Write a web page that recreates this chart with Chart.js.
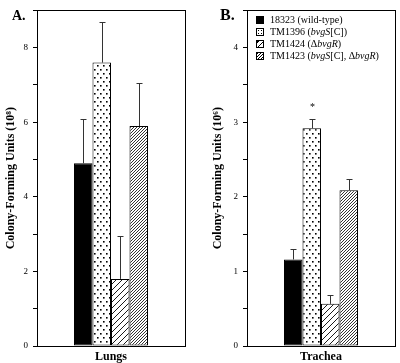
<!DOCTYPE html>
<html>
<head>
<meta charset="utf-8">
<script src="https://cdn.jsdelivr.net/npm/chart.js@4.4.1/dist/chart.umd.min.js"></script>
<style>
  body { margin: 0; background: #fff; }
  #wrap { position: relative; width: 400px; height: 363px; font-family: "Liberation Serif", serif; color: #000; }
  #wrap canvas { position: absolute; top: 0; }
  #lungs { left: 0; }
  #trachea { left: 200px; }
  .panel { position: absolute; font-weight: bold; }
  #legend { position: absolute; left: 256px; top: 14px; font-size: 10px; line-height: 12px; white-space: nowrap; }
  .sw { display: inline-block; width: 6px; height: 6px; border: 1px solid #000; margin-right: 6px; vertical-align: -0.5px; box-sizing: content-box; }
  .sw.solid { background: #000; }
  .sw.dots { background: #fff radial-gradient(circle, #000 0.8px, transparent 1px) 0 0 / 3px 3px; }
  .sw.light { background: repeating-linear-gradient(-45deg, #fff 0 3px, #000 3px 4px); }
  .sw.dense { background: repeating-linear-gradient(-45deg, #fff 0 1.2px, #000 1.2px 2px); }
</style>
</head>
<body>
<div id="wrap">
  <canvas id="lungs" width="200" height="363"></canvas>
  <canvas id="trachea" width="200" height="363"></canvas>
  <div class="panel" style="left:12px;top:8px;font-size:14px;">A.</div>
  <div class="panel" style="left:220px;top:6px;font-size:16px;">B.</div>
  <div id="legend"></div>
</div>
<script>
// data
const lungsCategories = ['Lungs'];
const tracheaCategories = ['Trachea'];
const strainLabels = [
  '18323 (wild-type)',
  'TM1396 (<i>bvgS</i>[C])',
  'TM1424 (\u0394<i>bvgR</i>)',
  'TM1423 (<i>bvgS</i>[C], \u0394<i>bvgR</i>)'
];
const lungsMeans = [4.9, 7.6, 1.8, 5.9];
const lungsErrors = [1.2, 1.08, 1.15, 1.15];
const tracheaMeans = [1.16, 2.92, 0.565, 2.09];
const tracheaErrors = [0.14, 0.12, 0.115, 0.145];
const tracheaMarks = ['', '*', '', ''];
const lungsTicks = [0, 2, 4, 6, 8];
const tracheaTicks = [0, 1, 2, 3, 4];

const serif = '"Liberation Serif", "Times New Roman", serif';
const swatchClass = ['solid', 'dots', 'light', 'dense'];

function makePattern(kind) {
	const c = document.createElement('canvas');
	const g = c.getContext('2d');
	if (kind === 'dots') {
		c.width = 6; c.height = 8;
		g.fillStyle = '#fff'; g.fillRect(0, 0, 6, 8);
		g.fillStyle = '#000';
		g.fillRect(1, 1, 1.6, 1.6);
		g.fillRect(4, 5, 1.6, 1.6);
	} else {
		const s = kind === 'light' ? 6 : 3;
		c.width = s; c.height = s;
		g.fillStyle = '#fff'; g.fillRect(0, 0, s, s);
		g.strokeStyle = '#000'; g.lineWidth = kind === 'light' ? 0.9 : 0.8;
		g.beginPath();
		g.moveTo(0, s); g.lineTo(s, 0);
		g.moveTo(-1, 1); g.lineTo(1, -1);
		g.moveTo(s - 1, s + 1); g.lineTo(s + 1, s - 1);
		g.stroke();
	}
	return g.createPattern(c, 'repeat');
}

const fills = ['#000', makePattern('dots'), makePattern('light'), makePattern('dense')];

document.getElementById('legend').innerHTML = strainLabels
	.map((t, i) => '<div><span class="sw ' + swatchClass[i] + '"></span>' + t + '</div>')
	.join('');

const errorBars = {
	id: 'errorBars',
	afterDatasetsDraw(chart) {
		const ctx = chart.ctx, y = chart.scales.y;
		chart.data.datasets.forEach((ds, i) => {
			chart.getDatasetMeta(i).data.forEach((bar, j) => {
				const top = y.getPixelForValue(ds.data[j] + ds.errors[j]);
				const x = Math.round(bar.x) + 0.5;
				ctx.save();
				ctx.strokeStyle = '#333';
				ctx.lineWidth = 1;
				ctx.beginPath();
				ctx.moveTo(x, bar.y);
				ctx.lineTo(x, Math.round(top) + 0.5);
				ctx.moveTo(x - 3, Math.round(top) + 0.5);
				ctx.lineTo(x + 3, Math.round(top) + 0.5);
				ctx.stroke();
				if (ds.marks && ds.marks[j]) {
					ctx.fillStyle = '#000';
					ctx.font = '10px ' + serif;
					ctx.textAlign = 'center';
					ctx.textBaseline = 'bottom';
					ctx.fillText(ds.marks[j], x, top - 7);
				}
				ctx.restore();
			});
		});
	}
};

const frame = {
	id: 'frame',
	afterDraw(chart) {
		const a = chart.chartArea, ctx = chart.ctx;
		ctx.save();
		ctx.strokeStyle = '#000';
		ctx.lineWidth = 1;
		ctx.strokeRect(Math.round(a.left) + 0.5, Math.round(a.top) + 0.5, Math.round(a.right - a.left), Math.round(a.bottom - a.top));
		ctx.restore();
	}
};

function build(id, categories, means, errors, marks, max, step, labelled, exponent, padding, axisWidth, titlePad) {
	const datasets = means.map((m, i) => ({
		label: strainLabels[i].replace(/<[^>]+>/g, ''),
		data: [m],
		errors: [errors[i]],
		marks: marks ? [marks[i]] : null,
		backgroundColor: fills[i],
		borderColor: '#000',
		borderWidth: 1,
		borderSkipped: false,
		categoryPercentage: 0.5,
		barPercentage: 1,
	}));
	return new Chart(document.getElementById(id).getContext('2d'), {
		type: 'bar',
		data: { labels: categories, datasets },
		options: {
			responsive: false,
			animation: false,
			layout: { padding },
			plugins: { legend: { display: false }, tooltip: { enabled: false } },
			scales: {
				x: {
					grid: { display: false, drawTicks: false },
					border: { color: '#000' },
					ticks: { color: '#000', padding: 4, font: { family: serif, size: 12, weight: 'bold' } },
					afterFit(s) { s.height = 17; },
				},
				y: {
					min: 0,
					max,
					grid: { drawOnChartArea: false, color: '#000', tickLength: 4 },
					border: { color: '#000' },
					ticks: {
						stepSize: step,
						color: '#000',
						padding: 5,
						font: { family: serif, size: 9 },
						callback: v => labelled.includes(v) ? v : '',
					},
					title: {
						display: true,
						text: 'Colony-Forming Units (10' + exponent + ')',
						color: '#000',
						padding: titlePad,
						font: { family: serif, size: 12, weight: 'bold' },
					},
					afterFit(s) { s.width = axisWidth; },
				},
			},
		},
		plugins: [errorBars, frame],
	});
}

build('lungs', lungsCategories, lungsMeans, lungsErrors, null, 9, 1, lungsTicks, '\u2078',
	{ top: 4, right: 15, left: 0, bottom: 0 }, 37, { top: 4, bottom: 0 });
build('trachea', tracheaCategories, tracheaMeans, tracheaErrors, tracheaMarks, 4.5, 0.5, tracheaTicks, '\u2076',
	{ top: 4, right: 5, left: 0, bottom: 0 }, 47, { top: 11, bottom: 0 });
</script>
</body>
</html>
